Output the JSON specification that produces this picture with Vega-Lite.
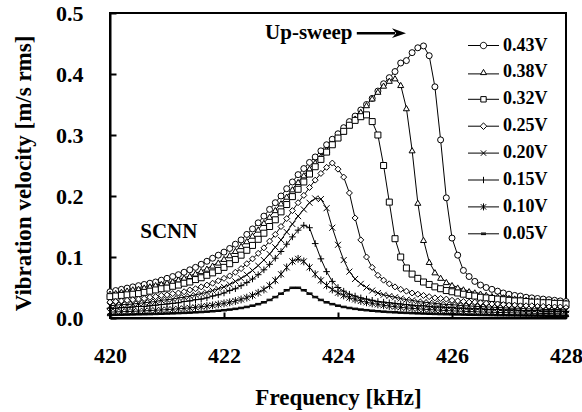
{
"$schema": "https://vega.github.io/schema/vega-lite/v6.json",
"width": 456, "height": 305,
"autosize": "none",
"padding": {"left": 110, "top": 13, "right": 16, "bottom": 94},
"background": "white",
"config": {"font": "Liberation Serif", "view": {"stroke": "black", "strokeWidth": 2}},
"data": {"values": [
{"s":"0.43V","f":420.0,"v":0.043},{"s":"0.43V","f":420.1,"v":0.045},{"s":"0.43V","f":420.2,"v":0.047},{"s":"0.43V","f":420.3,"v":0.049},{"s":"0.43V","f":420.4,"v":0.051},{"s":"0.43V","f":420.5,"v":0.053},{"s":"0.43V","f":420.6,"v":0.055},{"s":"0.43V","f":420.7,"v":0.057},{"s":"0.43V","f":420.8,"v":0.059},{"s":"0.43V","f":420.9,"v":0.062},
{"s":"0.43V","f":421.0,"v":0.065},{"s":"0.43V","f":421.1,"v":0.068},{"s":"0.43V","f":421.2,"v":0.071},{"s":"0.43V","f":421.3,"v":0.075},{"s":"0.43V","f":421.4,"v":0.079},{"s":"0.43V","f":421.5,"v":0.083},{"s":"0.43V","f":421.6,"v":0.088},{"s":"0.43V","f":421.7,"v":0.093},{"s":"0.43V","f":421.8,"v":0.098},{"s":"0.43V","f":421.9,"v":0.103},
{"s":"0.43V","f":422.0,"v":0.108},{"s":"0.43V","f":422.1,"v":0.114},{"s":"0.43V","f":422.2,"v":0.121},{"s":"0.43V","f":422.3,"v":0.128},{"s":"0.43V","f":422.4,"v":0.137},{"s":"0.43V","f":422.5,"v":0.146},{"s":"0.43V","f":422.6,"v":0.156},{"s":"0.43V","f":422.7,"v":0.167},{"s":"0.43V","f":422.8,"v":0.178},{"s":"0.43V","f":422.9,"v":0.189},
{"s":"0.43V","f":423.0,"v":0.200},{"s":"0.43V","f":423.1,"v":0.212},{"s":"0.43V","f":423.2,"v":0.223},{"s":"0.43V","f":423.3,"v":0.235},{"s":"0.43V","f":423.4,"v":0.245},{"s":"0.43V","f":423.5,"v":0.255},{"s":"0.43V","f":423.6,"v":0.264},{"s":"0.43V","f":423.7,"v":0.274},{"s":"0.43V","f":423.8,"v":0.284},{"s":"0.43V","f":423.9,"v":0.293},
{"s":"0.43V","f":424.0,"v":0.302},{"s":"0.43V","f":424.1,"v":0.312},{"s":"0.43V","f":424.2,"v":0.322},{"s":"0.43V","f":424.3,"v":0.331},{"s":"0.43V","f":424.4,"v":0.341},{"s":"0.43V","f":424.5,"v":0.350},{"s":"0.43V","f":424.6,"v":0.360},{"s":"0.43V","f":424.7,"v":0.372},{"s":"0.43V","f":424.8,"v":0.384},{"s":"0.43V","f":424.9,"v":0.394},
{"s":"0.43V","f":425.0,"v":0.404},{"s":"0.43V","f":425.1,"v":0.418},{"s":"0.43V","f":425.2,"v":0.422},{"s":"0.43V","f":425.3,"v":0.435},{"s":"0.43V","f":425.4,"v":0.443},{"s":"0.43V","f":425.5,"v":0.446},{"s":"0.43V","f":425.6,"v":0.430},{"s":"0.43V","f":425.7,"v":0.379},{"s":"0.43V","f":425.8,"v":0.292},{"s":"0.43V","f":425.9,"v":0.197},
{"s":"0.43V","f":426.0,"v":0.131},{"s":"0.43V","f":426.1,"v":0.103},{"s":"0.43V","f":426.2,"v":0.078},{"s":"0.43V","f":426.3,"v":0.068},{"s":"0.43V","f":426.4,"v":0.060},{"s":"0.43V","f":426.5,"v":0.054},{"s":"0.43V","f":426.6,"v":0.050},{"s":"0.43V","f":426.7,"v":0.047},{"s":"0.43V","f":426.8,"v":0.044},{"s":"0.43V","f":426.9,"v":0.041},
{"s":"0.43V","f":427.0,"v":0.039},{"s":"0.43V","f":427.1,"v":0.037},{"s":"0.43V","f":427.2,"v":0.036},{"s":"0.43V","f":427.3,"v":0.034},{"s":"0.43V","f":427.4,"v":0.033},{"s":"0.43V","f":427.5,"v":0.032},{"s":"0.43V","f":427.6,"v":0.031},{"s":"0.43V","f":427.7,"v":0.030},{"s":"0.43V","f":427.8,"v":0.029},{"s":"0.43V","f":427.9,"v":0.028},{"s":"0.43V","f":428.0,"v":0.027},

{"s":"0.38V","f":420.0,"v":0.040},{"s":"0.38V","f":420.1,"v":0.041},{"s":"0.38V","f":420.2,"v":0.043},{"s":"0.38V","f":420.3,"v":0.045},{"s":"0.38V","f":420.4,"v":0.047},{"s":"0.38V","f":420.5,"v":0.048},{"s":"0.38V","f":420.6,"v":0.050},{"s":"0.38V","f":420.7,"v":0.052},{"s":"0.38V","f":420.8,"v":0.054},{"s":"0.38V","f":420.9,"v":0.056},
{"s":"0.38V","f":421.0,"v":0.058},{"s":"0.38V","f":421.1,"v":0.060},{"s":"0.38V","f":421.2,"v":0.063},{"s":"0.38V","f":421.3,"v":0.066},{"s":"0.38V","f":421.4,"v":0.069},{"s":"0.38V","f":421.5,"v":0.073},{"s":"0.38V","f":421.6,"v":0.077},{"s":"0.38V","f":421.7,"v":0.081},{"s":"0.38V","f":421.8,"v":0.086},{"s":"0.38V","f":421.9,"v":0.091},
{"s":"0.38V","f":422.0,"v":0.097},{"s":"0.38V","f":422.1,"v":0.103},{"s":"0.38V","f":422.2,"v":0.110},{"s":"0.38V","f":422.3,"v":0.118},{"s":"0.38V","f":422.4,"v":0.126},{"s":"0.38V","f":422.5,"v":0.135},{"s":"0.38V","f":422.6,"v":0.145},{"s":"0.38V","f":422.7,"v":0.156},{"s":"0.38V","f":422.8,"v":0.166},{"s":"0.38V","f":422.9,"v":0.177},
{"s":"0.38V","f":423.0,"v":0.188},{"s":"0.38V","f":423.1,"v":0.199},{"s":"0.38V","f":423.2,"v":0.211},{"s":"0.38V","f":423.3,"v":0.223},{"s":"0.38V","f":423.4,"v":0.234},{"s":"0.38V","f":423.5,"v":0.245},{"s":"0.38V","f":423.6,"v":0.255},{"s":"0.38V","f":423.7,"v":0.265},{"s":"0.38V","f":423.8,"v":0.276},{"s":"0.38V","f":423.9,"v":0.286},
{"s":"0.38V","f":424.0,"v":0.296},{"s":"0.38V","f":424.1,"v":0.306},{"s":"0.38V","f":424.2,"v":0.316},{"s":"0.38V","f":424.3,"v":0.327},{"s":"0.38V","f":424.4,"v":0.338},{"s":"0.38V","f":424.5,"v":0.349},{"s":"0.38V","f":424.6,"v":0.360},{"s":"0.38V","f":424.7,"v":0.371},{"s":"0.38V","f":424.8,"v":0.381},{"s":"0.38V","f":424.9,"v":0.389},
{"s":"0.38V","f":425.0,"v":0.393},{"s":"0.38V","f":425.1,"v":0.382},{"s":"0.38V","f":425.2,"v":0.344},{"s":"0.38V","f":425.3,"v":0.275},{"s":"0.38V","f":425.4,"v":0.189},{"s":"0.38V","f":425.5,"v":0.128},{"s":"0.38V","f":425.6,"v":0.092},{"s":"0.38V","f":425.7,"v":0.075},{"s":"0.38V","f":425.8,"v":0.066},{"s":"0.38V","f":425.9,"v":0.059},
{"s":"0.38V","f":426.0,"v":0.054},{"s":"0.38V","f":426.1,"v":0.050},{"s":"0.38V","f":426.2,"v":0.047},{"s":"0.38V","f":426.3,"v":0.044},{"s":"0.38V","f":426.4,"v":0.042},{"s":"0.38V","f":426.5,"v":0.040},{"s":"0.38V","f":426.6,"v":0.038},{"s":"0.38V","f":426.7,"v":0.036},{"s":"0.38V","f":426.8,"v":0.035},{"s":"0.38V","f":426.9,"v":0.034},
{"s":"0.38V","f":427.0,"v":0.033},{"s":"0.38V","f":427.1,"v":0.032},{"s":"0.38V","f":427.2,"v":0.031},{"s":"0.38V","f":427.3,"v":0.030},{"s":"0.38V","f":427.4,"v":0.029},{"s":"0.38V","f":427.5,"v":0.028},{"s":"0.38V","f":427.6,"v":0.027},{"s":"0.38V","f":427.7,"v":0.027},{"s":"0.38V","f":427.8,"v":0.026},{"s":"0.38V","f":427.9,"v":0.025},{"s":"0.38V","f":428.0,"v":0.025},

{"s":"0.32V","f":420.0,"v":0.035},{"s":"0.32V","f":420.1,"v":0.036},{"s":"0.32V","f":420.2,"v":0.037},{"s":"0.32V","f":420.3,"v":0.038},{"s":"0.32V","f":420.4,"v":0.039},{"s":"0.32V","f":420.5,"v":0.040},{"s":"0.32V","f":420.6,"v":0.042},{"s":"0.32V","f":420.7,"v":0.044},{"s":"0.32V","f":420.8,"v":0.046},{"s":"0.32V","f":420.9,"v":0.048},
{"s":"0.32V","f":421.0,"v":0.049},{"s":"0.32V","f":421.1,"v":0.052},{"s":"0.32V","f":421.2,"v":0.054},{"s":"0.32V","f":421.3,"v":0.057},{"s":"0.32V","f":421.4,"v":0.059},{"s":"0.32V","f":421.5,"v":0.063},{"s":"0.32V","f":421.6,"v":0.066},{"s":"0.32V","f":421.7,"v":0.070},{"s":"0.32V","f":421.8,"v":0.074},{"s":"0.32V","f":421.9,"v":0.078},
{"s":"0.32V","f":422.0,"v":0.083},{"s":"0.32V","f":422.1,"v":0.089},{"s":"0.32V","f":422.2,"v":0.096},{"s":"0.32V","f":422.3,"v":0.103},{"s":"0.32V","f":422.4,"v":0.111},{"s":"0.32V","f":422.5,"v":0.119},{"s":"0.32V","f":422.6,"v":0.129},{"s":"0.32V","f":422.7,"v":0.139},{"s":"0.32V","f":422.8,"v":0.150},{"s":"0.32V","f":422.9,"v":0.161},
{"s":"0.32V","f":423.0,"v":0.174},{"s":"0.32V","f":423.1,"v":0.186},{"s":"0.32V","f":423.2,"v":0.199},{"s":"0.32V","f":423.3,"v":0.211},{"s":"0.32V","f":423.4,"v":0.223},{"s":"0.32V","f":423.5,"v":0.236},{"s":"0.32V","f":423.6,"v":0.248},{"s":"0.32V","f":423.7,"v":0.260},{"s":"0.32V","f":423.8,"v":0.272},{"s":"0.32V","f":423.9,"v":0.284},
{"s":"0.32V","f":424.0,"v":0.295},{"s":"0.32V","f":424.1,"v":0.306},{"s":"0.32V","f":424.2,"v":0.316},{"s":"0.32V","f":424.3,"v":0.324},{"s":"0.32V","f":424.4,"v":0.330},{"s":"0.32V","f":424.5,"v":0.333},{"s":"0.32V","f":424.6,"v":0.322},{"s":"0.32V","f":424.7,"v":0.300},{"s":"0.32V","f":424.8,"v":0.250},{"s":"0.32V","f":424.9,"v":0.190},
{"s":"0.32V","f":425.0,"v":0.130},{"s":"0.32V","f":425.1,"v":0.100},{"s":"0.32V","f":425.2,"v":0.082},{"s":"0.32V","f":425.3,"v":0.072},{"s":"0.32V","f":425.4,"v":0.065},{"s":"0.32V","f":425.5,"v":0.059},{"s":"0.32V","f":425.6,"v":0.055},{"s":"0.32V","f":425.7,"v":0.051},{"s":"0.32V","f":425.8,"v":0.048},{"s":"0.32V","f":425.9,"v":0.045},
{"s":"0.32V","f":426.0,"v":0.043},{"s":"0.32V","f":426.1,"v":0.041},{"s":"0.32V","f":426.2,"v":0.039},{"s":"0.32V","f":426.3,"v":0.037},{"s":"0.32V","f":426.4,"v":0.036},{"s":"0.32V","f":426.5,"v":0.034},{"s":"0.32V","f":426.6,"v":0.033},{"s":"0.32V","f":426.7,"v":0.032},{"s":"0.32V","f":426.8,"v":0.031},{"s":"0.32V","f":426.9,"v":0.030},
{"s":"0.32V","f":427.0,"v":0.029},{"s":"0.32V","f":427.1,"v":0.028},{"s":"0.32V","f":427.2,"v":0.028},{"s":"0.32V","f":427.3,"v":0.027},{"s":"0.32V","f":427.4,"v":0.026},{"s":"0.32V","f":427.5,"v":0.026},{"s":"0.32V","f":427.6,"v":0.025},{"s":"0.32V","f":427.7,"v":0.025},{"s":"0.32V","f":427.8,"v":0.024},{"s":"0.32V","f":427.9,"v":0.024},{"s":"0.32V","f":428.0,"v":0.023},

{"s":"0.25V","f":420.0,"v":0.026},{"s":"0.25V","f":420.1,"v":0.027},{"s":"0.25V","f":420.2,"v":0.028},{"s":"0.25V","f":420.3,"v":0.029},{"s":"0.25V","f":420.4,"v":0.030},{"s":"0.25V","f":420.5,"v":0.031},{"s":"0.25V","f":420.6,"v":0.032},{"s":"0.25V","f":420.7,"v":0.034},{"s":"0.25V","f":420.8,"v":0.035},{"s":"0.25V","f":420.9,"v":0.037},
{"s":"0.25V","f":421.0,"v":0.038},{"s":"0.25V","f":421.1,"v":0.040},{"s":"0.25V","f":421.2,"v":0.041},{"s":"0.25V","f":421.3,"v":0.043},{"s":"0.25V","f":421.4,"v":0.046},{"s":"0.25V","f":421.5,"v":0.048},{"s":"0.25V","f":421.6,"v":0.051},{"s":"0.25V","f":421.7,"v":0.054},{"s":"0.25V","f":421.8,"v":0.057},{"s":"0.25V","f":421.9,"v":0.061},
{"s":"0.25V","f":422.0,"v":0.065},{"s":"0.25V","f":422.1,"v":0.069},{"s":"0.25V","f":422.2,"v":0.075},{"s":"0.25V","f":422.3,"v":0.081},{"s":"0.25V","f":422.4,"v":0.089},{"s":"0.25V","f":422.5,"v":0.097},{"s":"0.25V","f":422.6,"v":0.106},{"s":"0.25V","f":422.7,"v":0.115},{"s":"0.25V","f":422.8,"v":0.126},{"s":"0.25V","f":422.9,"v":0.137},
{"s":"0.25V","f":423.0,"v":0.150},{"s":"0.25V","f":423.1,"v":0.163},{"s":"0.25V","f":423.2,"v":0.176},{"s":"0.25V","f":423.3,"v":0.189},{"s":"0.25V","f":423.4,"v":0.201},{"s":"0.25V","f":423.5,"v":0.214},{"s":"0.25V","f":423.6,"v":0.226},{"s":"0.25V","f":423.7,"v":0.237},{"s":"0.25V","f":423.8,"v":0.247},{"s":"0.25V","f":423.9,"v":0.254},
{"s":"0.25V","f":424.0,"v":0.244},{"s":"0.25V","f":424.1,"v":0.231},{"s":"0.25V","f":424.2,"v":0.205},{"s":"0.25V","f":424.3,"v":0.164},{"s":"0.25V","f":424.4,"v":0.128},{"s":"0.25V","f":424.5,"v":0.100},{"s":"0.25V","f":424.6,"v":0.083},{"s":"0.25V","f":424.7,"v":0.070},{"s":"0.25V","f":424.8,"v":0.062},{"s":"0.25V","f":424.9,"v":0.056},
{"s":"0.25V","f":425.0,"v":0.051},{"s":"0.25V","f":425.1,"v":0.047},{"s":"0.25V","f":425.2,"v":0.044},{"s":"0.25V","f":425.3,"v":0.041},{"s":"0.25V","f":425.4,"v":0.039},{"s":"0.25V","f":425.5,"v":0.037},{"s":"0.25V","f":425.6,"v":0.035},{"s":"0.25V","f":425.7,"v":0.033},{"s":"0.25V","f":425.8,"v":0.032},{"s":"0.25V","f":425.9,"v":0.031},
{"s":"0.25V","f":426.0,"v":0.029},{"s":"0.25V","f":426.1,"v":0.028},{"s":"0.25V","f":426.2,"v":0.027},{"s":"0.25V","f":426.3,"v":0.026},{"s":"0.25V","f":426.4,"v":0.026},{"s":"0.25V","f":426.5,"v":0.025},{"s":"0.25V","f":426.6,"v":0.024},{"s":"0.25V","f":426.7,"v":0.023},{"s":"0.25V","f":426.8,"v":0.023},{"s":"0.25V","f":426.9,"v":0.022},
{"s":"0.25V","f":427.0,"v":0.021},{"s":"0.25V","f":427.1,"v":0.021},{"s":"0.25V","f":427.2,"v":0.020},{"s":"0.25V","f":427.3,"v":0.020},{"s":"0.25V","f":427.4,"v":0.020},{"s":"0.25V","f":427.5,"v":0.019},{"s":"0.25V","f":427.6,"v":0.019},{"s":"0.25V","f":427.7,"v":0.018},{"s":"0.25V","f":427.8,"v":0.018},{"s":"0.25V","f":427.9,"v":0.018},{"s":"0.25V","f":428.0,"v":0.017},

{"s":"0.20V","f":420.0,"v":0.020},{"s":"0.20V","f":420.1,"v":0.021},{"s":"0.20V","f":420.2,"v":0.022},{"s":"0.20V","f":420.3,"v":0.022},{"s":"0.20V","f":420.4,"v":0.023},{"s":"0.20V","f":420.5,"v":0.024},{"s":"0.20V","f":420.6,"v":0.025},{"s":"0.20V","f":420.7,"v":0.026},{"s":"0.20V","f":420.8,"v":0.027},{"s":"0.20V","f":420.9,"v":0.029},
{"s":"0.20V","f":421.0,"v":0.030},{"s":"0.20V","f":421.1,"v":0.031},{"s":"0.20V","f":421.2,"v":0.033},{"s":"0.20V","f":421.3,"v":0.034},{"s":"0.20V","f":421.4,"v":0.036},{"s":"0.20V","f":421.5,"v":0.038},{"s":"0.20V","f":421.6,"v":0.040},{"s":"0.20V","f":421.7,"v":0.042},{"s":"0.20V","f":421.8,"v":0.045},{"s":"0.20V","f":421.9,"v":0.048},
{"s":"0.20V","f":422.0,"v":0.051},{"s":"0.20V","f":422.1,"v":0.055},{"s":"0.20V","f":422.2,"v":0.060},{"s":"0.20V","f":422.3,"v":0.065},{"s":"0.20V","f":422.4,"v":0.071},{"s":"0.20V","f":422.5,"v":0.078},{"s":"0.20V","f":422.6,"v":0.086},{"s":"0.20V","f":422.7,"v":0.095},{"s":"0.20V","f":422.8,"v":0.105},{"s":"0.20V","f":422.9,"v":0.116},
{"s":"0.20V","f":423.0,"v":0.128},{"s":"0.20V","f":423.1,"v":0.141},{"s":"0.20V","f":423.2,"v":0.154},{"s":"0.20V","f":423.3,"v":0.167},{"s":"0.20V","f":423.4,"v":0.178},{"s":"0.20V","f":423.5,"v":0.189},{"s":"0.20V","f":423.6,"v":0.196},{"s":"0.20V","f":423.7,"v":0.195},{"s":"0.20V","f":423.8,"v":0.180},{"s":"0.20V","f":423.9,"v":0.148},
{"s":"0.20V","f":424.0,"v":0.120},{"s":"0.20V","f":424.1,"v":0.095},{"s":"0.20V","f":424.2,"v":0.076},{"s":"0.20V","f":424.3,"v":0.064},{"s":"0.20V","f":424.4,"v":0.056},{"s":"0.20V","f":424.5,"v":0.050},{"s":"0.20V","f":424.6,"v":0.045},{"s":"0.20V","f":424.7,"v":0.041},{"s":"0.20V","f":424.8,"v":0.038},{"s":"0.20V","f":424.9,"v":0.036},
{"s":"0.20V","f":425.0,"v":0.034},{"s":"0.20V","f":425.1,"v":0.032},{"s":"0.20V","f":425.2,"v":0.030},{"s":"0.20V","f":425.3,"v":0.029},{"s":"0.20V","f":425.4,"v":0.027},{"s":"0.20V","f":425.5,"v":0.026},{"s":"0.20V","f":425.6,"v":0.025},{"s":"0.20V","f":425.7,"v":0.024},{"s":"0.20V","f":425.8,"v":0.023},{"s":"0.20V","f":425.9,"v":0.022},
{"s":"0.20V","f":426.0,"v":0.022},{"s":"0.20V","f":426.1,"v":0.021},{"s":"0.20V","f":426.2,"v":0.020},{"s":"0.20V","f":426.3,"v":0.020},{"s":"0.20V","f":426.4,"v":0.019},{"s":"0.20V","f":426.5,"v":0.019},{"s":"0.20V","f":426.6,"v":0.018},{"s":"0.20V","f":426.7,"v":0.018},{"s":"0.20V","f":426.8,"v":0.017},{"s":"0.20V","f":426.9,"v":0.017},
{"s":"0.20V","f":427.0,"v":0.016},{"s":"0.20V","f":427.1,"v":0.016},{"s":"0.20V","f":427.2,"v":0.016},{"s":"0.20V","f":427.3,"v":0.015},{"s":"0.20V","f":427.4,"v":0.015},{"s":"0.20V","f":427.5,"v":0.015},{"s":"0.20V","f":427.6,"v":0.014},{"s":"0.20V","f":427.7,"v":0.014},{"s":"0.20V","f":427.8,"v":0.014},{"s":"0.20V","f":427.9,"v":0.014},{"s":"0.20V","f":428.0,"v":0.013},

{"s":"0.15V","f":420.0,"v":0.016},{"s":"0.15V","f":420.1,"v":0.016},{"s":"0.15V","f":420.2,"v":0.017},{"s":"0.15V","f":420.3,"v":0.017},{"s":"0.15V","f":420.4,"v":0.018},{"s":"0.15V","f":420.5,"v":0.019},{"s":"0.15V","f":420.6,"v":0.019},{"s":"0.15V","f":420.7,"v":0.020},{"s":"0.15V","f":420.8,"v":0.021},{"s":"0.15V","f":420.9,"v":0.022},
{"s":"0.15V","f":421.0,"v":0.023},{"s":"0.15V","f":421.1,"v":0.024},{"s":"0.15V","f":421.2,"v":0.025},{"s":"0.15V","f":421.3,"v":0.027},{"s":"0.15V","f":421.4,"v":0.028},{"s":"0.15V","f":421.5,"v":0.030},{"s":"0.15V","f":421.6,"v":0.031},{"s":"0.15V","f":421.7,"v":0.033},{"s":"0.15V","f":421.8,"v":0.036},{"s":"0.15V","f":421.9,"v":0.038},
{"s":"0.15V","f":422.0,"v":0.041},{"s":"0.15V","f":422.1,"v":0.045},{"s":"0.15V","f":422.2,"v":0.048},{"s":"0.15V","f":422.3,"v":0.053},{"s":"0.15V","f":422.4,"v":0.058},{"s":"0.15V","f":422.5,"v":0.064},{"s":"0.15V","f":422.6,"v":0.071},{"s":"0.15V","f":422.7,"v":0.079},{"s":"0.15V","f":422.8,"v":0.088},{"s":"0.15V","f":422.9,"v":0.098},
{"s":"0.15V","f":423.0,"v":0.109},{"s":"0.15V","f":423.1,"v":0.121},{"s":"0.15V","f":423.2,"v":0.133},{"s":"0.15V","f":423.3,"v":0.144},{"s":"0.15V","f":423.4,"v":0.152},{"s":"0.15V","f":423.5,"v":0.148},{"s":"0.15V","f":423.6,"v":0.122},{"s":"0.15V","f":423.7,"v":0.097},{"s":"0.15V","f":423.8,"v":0.076},{"s":"0.15V","f":423.9,"v":0.060},
{"s":"0.15V","f":424.0,"v":0.050},{"s":"0.15V","f":424.1,"v":0.044},{"s":"0.15V","f":424.2,"v":0.039},{"s":"0.15V","f":424.3,"v":0.036},{"s":"0.15V","f":424.4,"v":0.033},{"s":"0.15V","f":424.5,"v":0.031},{"s":"0.15V","f":424.6,"v":0.029},{"s":"0.15V","f":424.7,"v":0.027},{"s":"0.15V","f":424.8,"v":0.026},{"s":"0.15V","f":424.9,"v":0.025},
{"s":"0.15V","f":425.0,"v":0.024},{"s":"0.15V","f":425.1,"v":0.023},{"s":"0.15V","f":425.2,"v":0.022},{"s":"0.15V","f":425.3,"v":0.021},{"s":"0.15V","f":425.4,"v":0.020},{"s":"0.15V","f":425.5,"v":0.020},{"s":"0.15V","f":425.6,"v":0.019},{"s":"0.15V","f":425.7,"v":0.018},{"s":"0.15V","f":425.8,"v":0.018},{"s":"0.15V","f":425.9,"v":0.017},
{"s":"0.15V","f":426.0,"v":0.017},{"s":"0.15V","f":426.1,"v":0.016},{"s":"0.15V","f":426.2,"v":0.016},{"s":"0.15V","f":426.3,"v":0.015},{"s":"0.15V","f":426.4,"v":0.015},{"s":"0.15V","f":426.5,"v":0.015},{"s":"0.15V","f":426.6,"v":0.014},{"s":"0.15V","f":426.7,"v":0.014},{"s":"0.15V","f":426.8,"v":0.014},{"s":"0.15V","f":426.9,"v":0.013},
{"s":"0.15V","f":427.0,"v":0.013},{"s":"0.15V","f":427.1,"v":0.013},{"s":"0.15V","f":427.2,"v":0.012},{"s":"0.15V","f":427.3,"v":0.012},{"s":"0.15V","f":427.4,"v":0.012},{"s":"0.15V","f":427.5,"v":0.012},{"s":"0.15V","f":427.6,"v":0.011},{"s":"0.15V","f":427.7,"v":0.011},{"s":"0.15V","f":427.8,"v":0.011},{"s":"0.15V","f":427.9,"v":0.011},{"s":"0.15V","f":428.0,"v":0.011},

{"s":"0.10V","f":420.0,"v":0.0097},{"s":"0.10V","f":420.1,"v":0.0100},{"s":"0.10V","f":420.2,"v":0.0103},{"s":"0.10V","f":420.3,"v":0.0106},{"s":"0.10V","f":420.4,"v":0.0110},{"s":"0.10V","f":420.5,"v":0.0113},{"s":"0.10V","f":420.6,"v":0.0118},{"s":"0.10V","f":420.7,"v":0.0122},{"s":"0.10V","f":420.8,"v":0.0127},{"s":"0.10V","f":420.9,"v":0.0132},
{"s":"0.10V","f":421.0,"v":0.0138},{"s":"0.10V","f":421.1,"v":0.0144},{"s":"0.10V","f":421.2,"v":0.0151},{"s":"0.10V","f":421.3,"v":0.0158},{"s":"0.10V","f":421.4,"v":0.0166},{"s":"0.10V","f":421.5,"v":0.0175},{"s":"0.10V","f":421.6,"v":0.0185},{"s":"0.10V","f":421.7,"v":0.0196},{"s":"0.10V","f":421.8,"v":0.0208},{"s":"0.10V","f":421.9,"v":0.0223},
{"s":"0.10V","f":422.0,"v":0.0239},{"s":"0.10V","f":422.1,"v":0.0257},{"s":"0.10V","f":422.2,"v":0.0279},{"s":"0.10V","f":422.3,"v":0.0304},{"s":"0.10V","f":422.4,"v":0.0334},{"s":"0.10V","f":422.5,"v":0.0370},{"s":"0.10V","f":422.6,"v":0.0414},{"s":"0.10V","f":422.7,"v":0.0467},{"s":"0.10V","f":422.8,"v":0.0534},{"s":"0.10V","f":422.9,"v":0.0617},
{"s":"0.10V","f":423.0,"v":0.0718},{"s":"0.10V","f":423.1,"v":0.0830},{"s":"0.10V","f":423.2,"v":0.0928},{"s":"0.10V","f":423.3,"v":0.0970},{"s":"0.10V","f":423.4,"v":0.0928},{"s":"0.10V","f":423.5,"v":0.0830},{"s":"0.10V","f":423.6,"v":0.0718},{"s":"0.10V","f":423.7,"v":0.0617},{"s":"0.10V","f":423.8,"v":0.0534},{"s":"0.10V","f":423.9,"v":0.0467},
{"s":"0.10V","f":424.0,"v":0.0414},{"s":"0.10V","f":424.1,"v":0.0370},{"s":"0.10V","f":424.2,"v":0.0334},{"s":"0.10V","f":424.3,"v":0.0304},{"s":"0.10V","f":424.4,"v":0.0279},{"s":"0.10V","f":424.5,"v":0.0257},{"s":"0.10V","f":424.6,"v":0.0239},{"s":"0.10V","f":424.7,"v":0.0223},{"s":"0.10V","f":424.8,"v":0.0208},{"s":"0.10V","f":424.9,"v":0.0196},
{"s":"0.10V","f":425.0,"v":0.0185},{"s":"0.10V","f":425.1,"v":0.0175},{"s":"0.10V","f":425.2,"v":0.0166},{"s":"0.10V","f":425.3,"v":0.0158},{"s":"0.10V","f":425.4,"v":0.0151},{"s":"0.10V","f":425.5,"v":0.0144},{"s":"0.10V","f":425.6,"v":0.0138},{"s":"0.10V","f":425.7,"v":0.0132},{"s":"0.10V","f":425.8,"v":0.0127},{"s":"0.10V","f":425.9,"v":0.0122},
{"s":"0.10V","f":426.0,"v":0.0118},{"s":"0.10V","f":426.1,"v":0.0113},{"s":"0.10V","f":426.2,"v":0.0110},{"s":"0.10V","f":426.3,"v":0.0106},{"s":"0.10V","f":426.4,"v":0.0103},{"s":"0.10V","f":426.5,"v":0.0100},{"s":"0.10V","f":426.6,"v":0.0097},{"s":"0.10V","f":426.7,"v":0.0094},{"s":"0.10V","f":426.8,"v":0.0091},{"s":"0.10V","f":426.9,"v":0.0089},
{"s":"0.10V","f":427.0,"v":0.0086},{"s":"0.10V","f":427.1,"v":0.0084},{"s":"0.10V","f":427.2,"v":0.0082},{"s":"0.10V","f":427.3,"v":0.0080},{"s":"0.10V","f":427.4,"v":0.0078},{"s":"0.10V","f":427.5,"v":0.0076},{"s":"0.10V","f":427.6,"v":0.0074},{"s":"0.10V","f":427.7,"v":0.0073},{"s":"0.10V","f":427.8,"v":0.0071},{"s":"0.10V","f":427.9,"v":0.0069},{"s":"0.10V","f":428.0,"v":0.0068},

{"s":"0.05V","f":420.0,"v":0.0050},{"s":"0.05V","f":420.1,"v":0.0052},{"s":"0.05V","f":420.2,"v":0.0054},{"s":"0.05V","f":420.3,"v":0.0056},{"s":"0.05V","f":420.4,"v":0.0058},{"s":"0.05V","f":420.5,"v":0.0060},{"s":"0.05V","f":420.6,"v":0.0062},{"s":"0.05V","f":420.7,"v":0.0064},{"s":"0.05V","f":420.8,"v":0.0067},{"s":"0.05V","f":420.9,"v":0.0070},
{"s":"0.05V","f":421.0,"v":0.0073},{"s":"0.05V","f":421.1,"v":0.0076},{"s":"0.05V","f":421.2,"v":0.0080},{"s":"0.05V","f":421.3,"v":0.0084},{"s":"0.05V","f":421.4,"v":0.0088},{"s":"0.05V","f":421.5,"v":0.0093},{"s":"0.05V","f":421.6,"v":0.0098},{"s":"0.05V","f":421.7,"v":0.0104},{"s":"0.05V","f":421.8,"v":0.0111},{"s":"0.05V","f":421.9,"v":0.0119},
{"s":"0.05V","f":422.0,"v":0.0128},{"s":"0.05V","f":422.1,"v":0.0138},{"s":"0.05V","f":422.2,"v":0.0150},{"s":"0.05V","f":422.3,"v":0.0164},{"s":"0.05V","f":422.4,"v":0.0181},{"s":"0.05V","f":422.5,"v":0.0202},{"s":"0.05V","f":422.6,"v":0.0227},{"s":"0.05V","f":422.7,"v":0.0257},{"s":"0.05V","f":422.8,"v":0.0296},{"s":"0.05V","f":422.9,"v":0.0343},
{"s":"0.05V","f":423.0,"v":0.0399},{"s":"0.05V","f":423.1,"v":0.0455},{"s":"0.05V","f":423.2,"v":0.0495},{"s":"0.05V","f":423.3,"v":0.0495},{"s":"0.05V","f":423.4,"v":0.0455},{"s":"0.05V","f":423.5,"v":0.0399},{"s":"0.05V","f":423.6,"v":0.0343},{"s":"0.05V","f":423.7,"v":0.0296},{"s":"0.05V","f":423.8,"v":0.0257},{"s":"0.05V","f":423.9,"v":0.0227},
{"s":"0.05V","f":424.0,"v":0.0202},{"s":"0.05V","f":424.1,"v":0.0181},{"s":"0.05V","f":424.2,"v":0.0164},{"s":"0.05V","f":424.3,"v":0.0150},{"s":"0.05V","f":424.4,"v":0.0138},{"s":"0.05V","f":424.5,"v":0.0128},{"s":"0.05V","f":424.6,"v":0.0119},{"s":"0.05V","f":424.7,"v":0.0111},{"s":"0.05V","f":424.8,"v":0.0104},{"s":"0.05V","f":424.9,"v":0.0098},
{"s":"0.05V","f":425.0,"v":0.0093},{"s":"0.05V","f":425.1,"v":0.0088},{"s":"0.05V","f":425.2,"v":0.0084},{"s":"0.05V","f":425.3,"v":0.0080},{"s":"0.05V","f":425.4,"v":0.0076},{"s":"0.05V","f":425.5,"v":0.0073},{"s":"0.05V","f":425.6,"v":0.0070},{"s":"0.05V","f":425.7,"v":0.0067},{"s":"0.05V","f":425.8,"v":0.0064},{"s":"0.05V","f":425.9,"v":0.0062},
{"s":"0.05V","f":426.0,"v":0.0060},{"s":"0.05V","f":426.1,"v":0.0058},{"s":"0.05V","f":426.2,"v":0.0056},{"s":"0.05V","f":426.3,"v":0.0054},{"s":"0.05V","f":426.4,"v":0.0052},{"s":"0.05V","f":426.5,"v":0.0050},{"s":"0.05V","f":426.6,"v":0.0049},{"s":"0.05V","f":426.7,"v":0.0048},{"s":"0.05V","f":426.8,"v":0.0046},{"s":"0.05V","f":426.9,"v":0.0045},
{"s":"0.05V","f":427.0,"v":0.0044},{"s":"0.05V","f":427.1,"v":0.0043},{"s":"0.05V","f":427.2,"v":0.0042},{"s":"0.05V","f":427.3,"v":0.0041},{"s":"0.05V","f":427.4,"v":0.0040},{"s":"0.05V","f":427.5,"v":0.0039},{"s":"0.05V","f":427.6,"v":0.0038},{"s":"0.05V","f":427.7,"v":0.0037},{"s":"0.05V","f":427.8,"v":0.0037},{"s":"0.05V","f":427.9,"v":0.0036},{"s":"0.05V","f":428.0,"v":0.0035}
]},
"layer": [
  {"encoding": {
    "x": {"field": "f", "type": "quantitative", "scale": {"domain": [420, 428], "nice": false, "zero": false},
      "axis": {"title": "Frequency [kHz]", "values": [420, 422, 424, 426, 428], "format": "d", "grid": false,
        "tickSize": -6, "tickWidth": 2, "tickColor": "black", "domainColor": "black", "domainWidth": 2,
        "labelFont": "Liberation Serif", "labelFontSize": 22, "labelFontWeight": "bold", "labelColor": "black",
        "labelPadding": 50, "labelBaseline": "alphabetic", "labelFlush": false,
        "titleFont": "Liberation Serif", "titleFontSize": 23, "titleFontWeight": "bold", "titleColor": "black",
        "titleY": 79, "titleBaseline": "middle"}},
    "y": {"field": "v", "type": "quantitative", "scale": {"domain": [0, 0.5], "nice": false},
      "axis": {"title": "Vibration velocity [m/s rms]", "values": [0, 0.1, 0.2, 0.3, 0.4, 0.5], "format": ".1f", "grid": false,
        "tickSize": -6, "tickWidth": 2, "tickColor": "black", "domainColor": "black", "domainWidth": 2,
        "labelFont": "Liberation Serif", "labelFontSize": 22, "labelFontWeight": "bold", "labelColor": "black",
        "labelPadding": 33, "labelBaseline": "middle", "labelFlush": false,
        "titleFont": "Liberation Serif", "titleFontSize": 23, "titleFontWeight": "bold", "titleColor": "black",
        "titleX": -87, "titleY": 160, "titleBaseline": "middle", "titleAlign": "center", "titleAngle": -90}}
   },
   "layer": [
    {"mark": {"type": "line", "stroke": "black", "strokeWidth": 1},
     "encoding": {"detail": {"field": "s", "type": "nominal"}}},
    {"mark": {"type": "point", "filled": true, "fill": "white", "stroke": "black", "strokeWidth": 1, "size": 36, "opacity": 1},
     "encoding": {
      "shape": {"field": "s", "type": "nominal", "legend": null,
        "scale": {"domain": ["0.43V", "0.38V", "0.32V", "0.25V", "0.20V", "0.15V", "0.10V", "0.05V"],
                  "range": ["circle", "triangle-up", "square", "diamond", "M-1,-1L1,1M-1,1L1,-1", "M-1.1,0L1.1,0M0,-1.1L0,1.1", "M-1,-1L1,1M-1,1L1,-1M0,-1.3L0,1.3", "M-1,-0.25L1,-0.25M-1,0L1,0M-1,0.25L1,0.25"]}}}}
   ]},
  {"data": {"values": [{"s":"0.43V"},{"s":"0.38V"},{"s":"0.32V"},{"s":"0.25V"},{"s":"0.20V"},{"s":"0.15V"},{"s":"0.10V"},{"s":"0.05V"}]},
   "mark": {"type": "point", "filled": false, "stroke": "black", "strokeWidth": 1, "size": 400, "clip": true, "opacity": 1},
   "encoding": {
     "x": {"datum": 418, "type": "quantitative"},
     "y": {"datum": 0.25, "type": "quantitative"},
     "shape": {"field": "s", "type": "nominal",
       "scale": {"domain": ["0.43V", "0.38V", "0.32V", "0.25V", "0.20V", "0.15V", "0.10V", "0.05V"],
         "range": [
           "M-1.55,0L-0.32,0M0.32,0L1.55,0M0.32,0A0.32,0.32,0,1,1,-0.32,0A0.32,0.32,0,1,1,0.32,0",
           "M-1.55,0.15L-0.25,0.15M0.25,0.15L1.55,0.15M0,-0.3L0.3,0.22L-0.3,0.22Z",
           "M-1.55,0L-0.27,0M0.27,0L1.55,0M-0.27,-0.27L0.27,-0.27L0.27,0.27L-0.27,0.27Z",
           "M-1.55,0L-0.33,0M0.33,0L1.55,0M0,-0.33L0.33,0L0,0.33L-0.33,0Z",
           "M-1.55,0L1.55,0M-0.27,-0.27L0.27,0.27M-0.27,0.27L0.27,-0.27",
           "M-1.55,0L1.55,0M0,-0.32L0,0.32",
           "M-1.55,0L1.55,0M-0.27,-0.27L0.27,0.27M-0.27,0.27L0.27,-0.27M0,-0.35L0,0.35",
           "M-1.55,0L1.55,0M-0.25,-0.08L0.25,-0.08M-0.25,0.08L0.25,0.08"]},
       "legend": {"title": null, "orient": "none", "legendX": 363, "legendY": 22, "padding": 0,
         "symbolSize": 400, "symbolStrokeWidth": 1,
         "labelFont": "Liberation Serif", "labelFontSize": 18, "labelFontWeight": "bold", "labelColor": "black",
         "labelOffset": 9, "rowPadding": 6.9}}}},
  {"data": {"values": [{}]},
   "mark": {"type": "text", "text": "Up-sweep", "align": "left", "baseline": "middle", "font": "Liberation Serif", "fontSize": 21, "fontWeight": "bold", "color": "black"},
   "encoding": {"x": {"datum": 422.72, "type": "quantitative"}, "y": {"datum": 0.467, "type": "quantitative"}}},
  {"data": {"values": [{}]},
   "mark": {"type": "rule", "strokeWidth": 2.5, "color": "black"},
   "encoding": {"x": {"datum": 424.33, "type": "quantitative"}, "x2": {"datum": 425.0}, "y": {"datum": 0.467, "type": "quantitative"}}},
  {"data": {"values": [{}]},
   "mark": {"type": "point", "shape": "M1,0L-1,-0.7L-0.4,0L-1,0.7Z", "filled": true, "color": "black", "size": 196, "opacity": 1},
   "encoding": {"x": {"datum": 425.07, "type": "quantitative"}, "y": {"datum": 0.467, "type": "quantitative"}}},
  {"data": {"values": [{}]},
   "mark": {"type": "text", "text": "SCNN", "align": "left", "baseline": "middle", "font": "Liberation Serif", "fontSize": 21, "fontWeight": "bold", "color": "black"},
   "encoding": {"x": {"datum": 420.53, "type": "quantitative"}, "y": {"datum": 0.141, "type": "quantitative"}}}
],
"resolve": {"scale": {"shape": "independent"}, "legend": {"shape": "independent"}}
}
